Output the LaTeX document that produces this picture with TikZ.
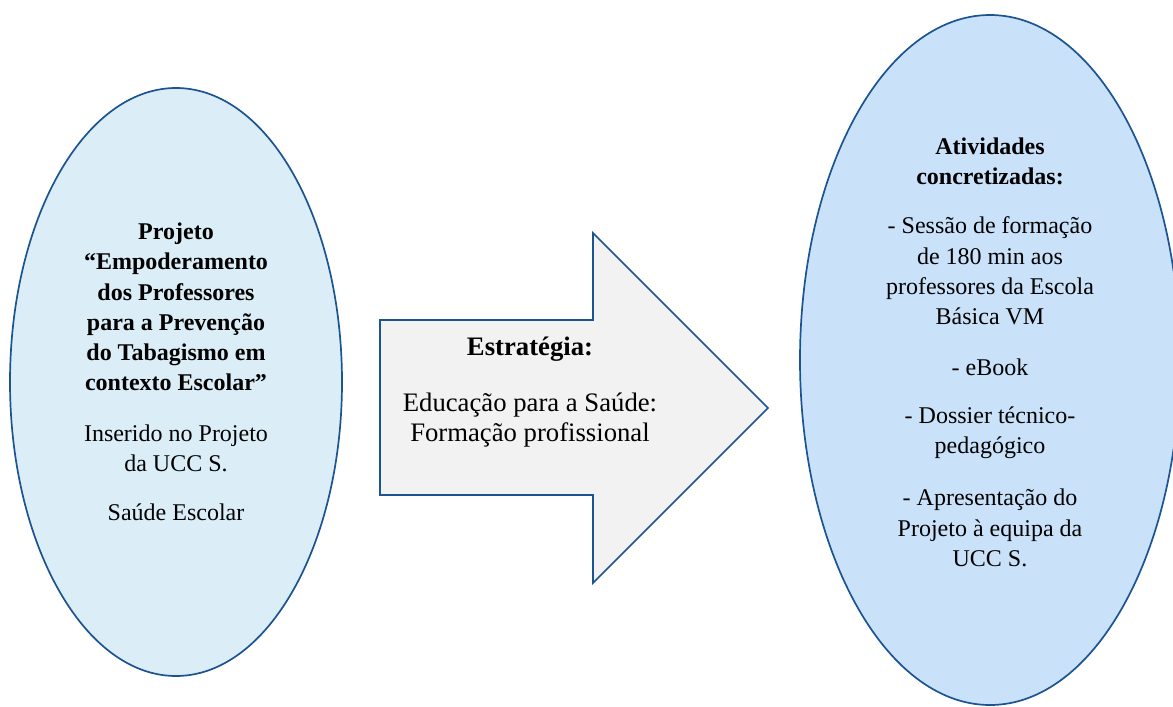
\documentclass[tikz,border=0pt]{standalone}
\usepackage{fontspec}
\setmainfont{Liberation Serif}
\usetikzlibrary{shapes.geometric}
\definecolor{rim}{RGB}{28,84,146}
\definecolor{leftfill}{RGB}{219,238,248}
\definecolor{rightfill}{RGB}{201,226,249}
\definecolor{arrowfill}{RGB}{242,242,242}

\begin{document}
\begin{tikzpicture}[x=1pt,y=-1pt,
	blob/.style={ellipse,draw=rim,line width=1.7pt,inner sep=0pt},
	txt/.style={align=center,font=\fontsize{24}{30.2}\selectfont,inner sep=0pt},
	btxt/.style={txt,font=\fontsize{24}{30.2}\selectfont\bfseries},
	bigtxt/.style={txt,font=\fontsize{26.7}{30.2}\selectfont}]
	\useasboundingbox (0,0) rectangle (1173,707);
	\node [blob,fill=leftfill,minimum width=332pt,minimum height=588pt] (e1) at (176,382) {};
	\node [blob,fill=rightfill,minimum width=380pt,minimum height=690pt] (e2) at (990,360) {};
	%
	\draw [draw=rim,fill=arrowfill,line width=1.7pt,line join=miter]
		(380,320) -- (593,320) -- (593,233) -- (768,408) -- (593,583) -- (593,495) -- (380,495) -- cycle;
	%
	\node [btxt] (t1) at (176,307) {Projeto\\“Empoderamento\\dos Professores\\para a Prevenção\\do Tabagismo em\\contexto Escolar”};
	\node [txt] (t2) at (176,448) {Inserido no Projeto\\da UCC S.};
	\node [txt] (t3) at (176,512) {Saúde Escolar};
	%
	\node [bigtxt,font=\fontsize{26.7}{30.2}\selectfont\bfseries] (s1) at (530,349) {Estratégia:};
	\node [bigtxt] (s2) at (530,420) {Educação para a Saúde:\\Formação profissional};
	%
	\node [btxt] (a1) at (990,161) {Atividades\\concretizadas:};
	\node [txt] (a2) at (990,271) {- Sessão de formação\\de 180 min aos\\professores da Escola\\Básica VM};
	\node [txt] (a3) at (990,367) {- eBook};
	\node [txt] (a4) at (990,433) {- Dossier técnico-\\pedagógico};
	\node [txt] (a5) at (990,528) {- Apresentação do\\Projeto à equipa da\\UCC S.};
\end{tikzpicture}
\end{document}
